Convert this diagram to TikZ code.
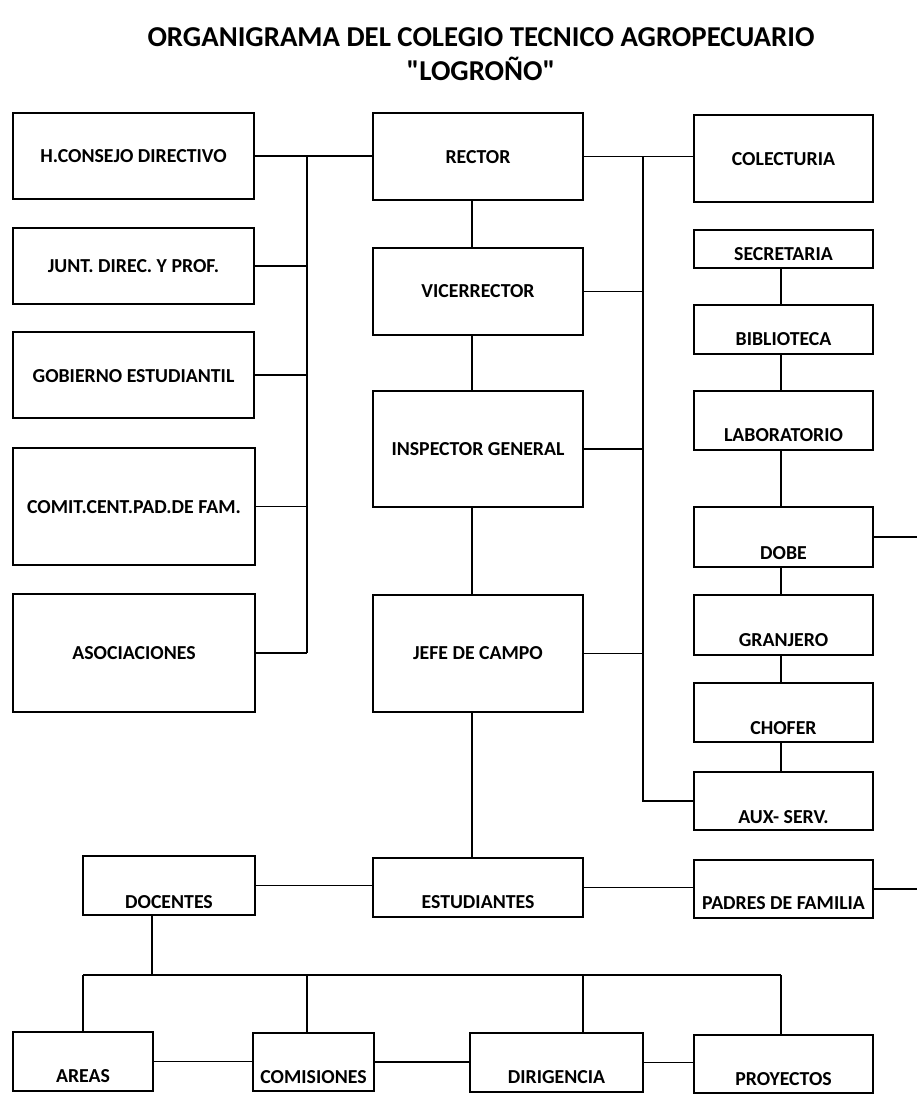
\documentclass[tikz,border=0pt]{standalone}
\usepackage{fontspec}
\newfontfamily\carl{Carlito}
\tikzset{
  boxst/.style={draw=black, line width=1.7pt, fill=white, inner sep=0pt, outer sep=0pt, rectangle},
  lbl/.style={font=\carl\bfseries\fontsize{19.8}{22}\selectfont, inner sep=0pt, text height=12.7pt, text depth=0pt, anchor=center},
  ttl/.style={font=\carl\bfseries\fontsize{28.8}{32}\selectfont, inner sep=0pt, text height=18.5pt, text depth=0pt, anchor=center},
  conn/.style={draw=black, line width=1.4pt},
  thick conn/.style={draw=black, line width=2.1pt}
}
\newcommand\obox[7]{%
  \node[boxst, minimum width={(#4-#2)*1pt}, minimum height={(#5-#3)*1pt}] (#1) at ({(#2+#4)/2},{(#3+#5)/2}) {};
  \node[lbl] (#1t) at ({(#2+#4)/2},#6) {#7};}
\begin{document}
\begin{tikzpicture}[x=1pt,y=-1pt]
\useasboundingbox (0,0) rectangle (917,1094);
\fill[white] (0,0) rectangle (917,1094);
% title
\node[ttl] (title1) at (481,37) {ORGANIGRAMA DEL COLEGIO TECNICO AGROPECUARIO};
\node[ttl] (title2) at (481,71) {"LOGROÑO"};
% coordinates for buses
\coordinate (lbtop) at (307,157);
\coordinate (lbbot) at (307,653);
\coordinate (cx) at (472,0);
\coordinate (rbtop) at (643,157);
\coordinate (rbbot) at (643,801);
\coordinate (rx) at (781,0);
\coordinate (dobeend) at (917,537);
\coordinate (padend) at (917,889);
\coordinate (dx) at (152,0);
\coordinate (bbl) at (83,975);
\coordinate (bbr) at (781,975);
\coordinate (cdx) at (307,0);
\coordinate (ddx) at (583,0);
% left column
\obox{hcd}{13}{113}{254}{199}{156}{H.CONSEJO DIRECTIVO}
\obox{junt}{13}{228}{254}{304}{266}{JUNT. DIREC. Y PROF.}
\obox{gob}{13}{332}{254}{418}{376}{GOBIERNO ESTUDIANTIL}
\obox{comit}{13}{448}{255}{565}{507}{COMIT.CENT.PAD.DE FAM.}
\obox{asoc}{13}{594}{255}{712}{653}{ASOCIACIONES}
% center column
\obox{rector}{373}{113}{583}{200}{157}{RECTOR}
\obox{vice}{373}{248}{583}{335}{291}{VICERRECTOR}
\obox{insp}{373}{391}{583}{507}{449}{INSPECTOR GENERAL}
\obox{jefe}{373}{595}{583}{712}{653}{JEFE DE CAMPO}
\obox{est}{373}{858}{583}{917}{902}{ESTUDIANTES}
% right column
\obox{colec}{694}{115}{873}{202}{159}{COLECTURIA}
\obox{secr}{694}{230}{873}{268}{254}{SECRETARIA}
\obox{bibl}{694}{305}{873}{354}{339}{BIBLIOTECA}
\obox{lab}{694}{391}{873}{450}{435}{LABORATORIO}
\obox{dobe}{694}{507}{873}{567}{553}{DOBE}
\obox{gran}{694}{595}{873}{655}{640}{GRANJERO}
\obox{chof}{694}{683}{873}{742}{728}{CHOFER}
\obox{aux}{694}{772}{873}{830}{817}{AUX- SERV.}
\obox{padres}{694}{860}{873}{918}{903}{PADRES DE FAMILIA}
% bottom
\obox{doc}{83}{856}{255}{915}{902}{DOCENTES}
\obox{areas}{13}{1032}{153}{1091}{1076}{AREAS}
\obox{comis}{253}{1033}{374}{1091}{1077}{COMISIONES}
\obox{dirig}{470}{1033}{643}{1092}{1077}{DIRIGENCIA}
\obox{proy}{694}{1035}{873}{1093}{1079}{PROYECTOS}
% connectors: left bus
\draw[conn] (hcd.east) -- (hcd.east -| rector.west);
\draw[conn] (lbtop) -- (lbbot);
\draw[conn] (junt.east) -- (junt.east -| lbtop);
\draw[conn] (gob.east) -- (gob.east -| lbtop);
\draw[conn] (comit.east) -- (comit.east -| lbtop);
\draw[conn] (asoc.east) -- (asoc.east -| lbtop);
% center spine
\draw[conn] (rector.south -| cx) -- (vice.north -| cx);
\draw[conn] (vice.south -| cx) -- (insp.north -| cx);
\draw[conn] (insp.south -| cx) -- (jefe.north -| cx);
\draw[conn] (jefe.south -| cx) -- (est.north -| cx);
% right bus
\draw[conn] (rector.east) -- (rector.east -| colec.west);
\draw[conn] (rbtop) -- (rbbot) -- (aux.west);
\draw[conn] (vice.east) -- (vice.east -| rbtop);
\draw[conn] (insp.east) -- (insp.east -| rbtop);
\draw[conn] (jefe.east) -- (jefe.east -| rbtop);
% right column chain
\draw[conn] (secr.south -| rx) -- (bibl.north -| rx);
\draw[conn] (bibl.south -| rx) -- (lab.north -| rx);
\draw[conn] (lab.south -| rx) -- (dobe.north -| rx);
\draw[conn] (dobe.south -| rx) -- (gran.north -| rx);
\draw[conn] (gran.south -| rx) -- (chof.north -| rx);
\draw[conn] (chof.south -| rx) -- (aux.north -| rx);
\draw[conn] (dobe.east) -- (dobeend);
\draw[conn] (padres.east) -- (padend);
% students row
\draw[conn] (doc.east) -- (doc.east -| est.west);
\draw[conn] (est.east) -- (est.east -| padres.west);
% docentes tree
\draw[thick conn] (doc.south -| dx) -- (bbl -| dx);
\draw[conn] (bbl) -- (bbr);
\draw[conn] (bbl) -- (areas.north);
\draw[conn] (bbl -| cdx) -- (comis.north -| cdx);
\draw[conn] (bbl -| ddx) -- (dirig.north -| ddx);
\draw[conn] (bbr) -- (proy.north -| bbr);
\draw[conn] (areas.east) -- (areas.east -| comis.west);
\draw[thick conn] (comis.east) -- (comis.east -| dirig.west);
\draw[conn] (dirig.east) -- (dirig.east -| proy.west);
\end{tikzpicture}
\end{document}
